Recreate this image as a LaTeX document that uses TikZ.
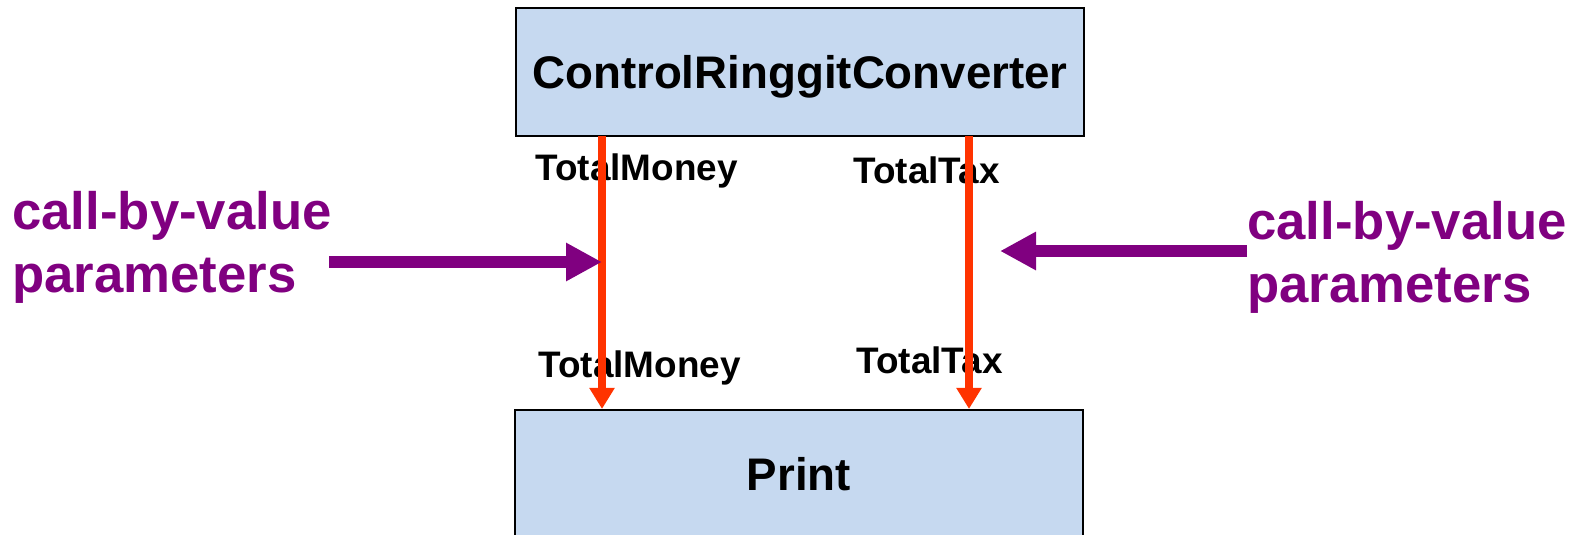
\documentclass[tikz,border=0pt]{standalone}
\usepackage{fontspec}
\setmainfont{Liberation Sans}
\usepackage{tikz}
\usetikzlibrary{arrows.meta,positioning}
\definecolor{BoxBlue}{HTML}{C6D9F0}
\definecolor{ParamRed}{HTML}{FF3300}
\definecolor{NotePurple}{HTML}{800080}
\newcommand{\modbox}[3]{\node[draw=black,fill=BoxBlue,line width=1.2pt,
  minimum width=11.36cm,minimum height=2.56cm,inner sep=0pt,text depth=0pt,
  font=\fontsize{26}{30}\selectfont\bfseries] (#1) at #2 {#3};}
\newcommand{\parlab}[3]{\node[anchor=base west,inner sep=0pt,
  font=\fontsize{21}{25}\selectfont\bfseries] (#1) at #2 {#3};}
\newcommand{\cbvnote}[3]{\node[anchor=west,inner sep=0pt,align=left,
  text=NotePurple,font=\fontsize{30}{36}\selectfont\bfseries] (#1) at #2 {#3};}

\begin{document}
\begin{tikzpicture}[
  x=0.02cm, y=-0.02cm,
  redarr/.style={-{Triangle[width=0.48cm,length=0.42cm]}, draw=ParamRed, fill=ParamRed, line width=4.5pt},
  purarr/.style={-{Triangle[width=0.72cm,length=0.72cm]}, draw=NotePurple, fill=NotePurple, line width=6.8pt},
]
\useasboundingbox (0,0) rectangle (1581,534);
\clip (0,0) rectangle (1581,534);

%% ── Modules ──────────────────────────────────────────────────────────────
\modbox{conv}{(800,72)}{ControlRinggitConverter}
\modbox{print}{(799,474)}{Print}

%% ── Parameter names ──────────────────────────────────────────────────────
\parlab{m1}{(535,180)}{TotalMoney}
\parlab{t1}{(853,183)}{TotalTax}
\parlab{m2}{(538,377)}{TotalMoney}
\parlab{t2}{(856,373)}{TotalTax}

%% ── Parameter flows ──────────────────────────────────────────────────────
\coordinate (mflow) at (602,136);
\coordinate (tflow) at (969,136);
\draw[redarr] (mflow) -- (mflow |- print.north);
\draw[redarr] (tflow) -- (tflow |- print.north);

%% ── Call-by-value notes ──────────────────────────────────────────────────
\cbvnote{lnote}{(12,247)}{call-by-value\\parameters}
\cbvnote{rnote}{(1247,257)}{call-by-value\\parameters}

\coordinate (lp) at (329,262);
\coordinate (rp) at (1247,251);
\draw[purarr] (lp) -- (lp -| mflow);
\draw[purarr] (rp) -- ([xshift=31*0.02cm]rp -| tflow);

\end{tikzpicture}
\end{document}
